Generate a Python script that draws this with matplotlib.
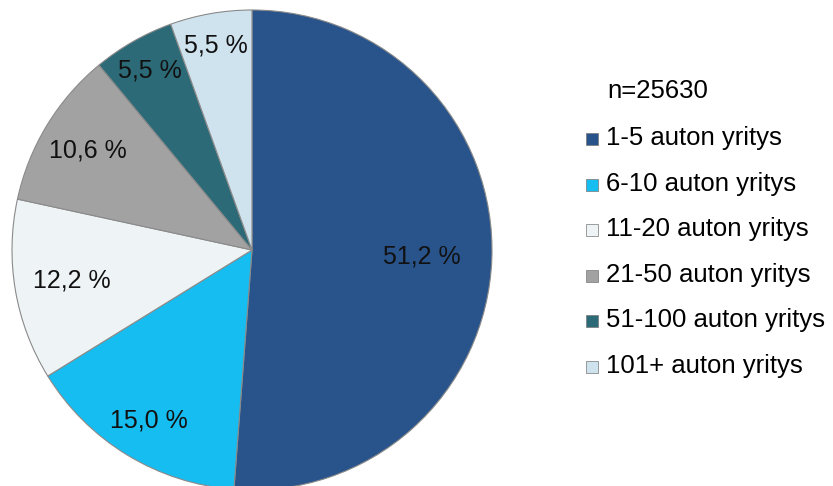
import matplotlib

matplotlib.use("Agg")
import matplotlib.pyplot as plt
import numpy as np
from matplotlib.patches import Rectangle

plt.rcParams["font.family"] = ["Liberation Sans", "DejaVu Sans"]

categories = [
    "1-5 auton yritys",
    "6-10 auton yritys",
    "11-20 auton yritys",
    "21-50 auton yritys",
    "51-100 auton yritys",
    "101+ auton yritys",
]
shares = [51.2, 15.0, 12.2, 10.6, 5.5, 5.5]
colors = ["#29548b", "#16bdf0", "#eef3f6", "#a2a2a2", "#2c6a78", "#cfe3ef"]
n_total = 25630

W, H = 833, 486
fig = plt.figure(figsize=(W / 100, H / 100), dpi=100)

# pie centre ~ (252, 250) px, radius ~240 px
cx, cy, r = 252, 250, 240
ax = fig.add_axes([(cx - r) / W, (H - cy - r) / H, 2 * r / W, 2 * r / H])

wedges, _ = ax.pie(
    shares,
    colors=colors,
    startangle=90,
    counterclock=False,
    radius=1.0,
    wedgeprops=dict(edgecolor="#8a8a8a", linewidth=0.8),
)

# label distance from centre, per slice (fraction of radius)
label_r = [0.71, 0.83, 0.76, 0.80, 0.86, 0.865]
for w, s, lr in zip(wedges, shares, label_r):
    mid = np.deg2rad((w.theta1 + w.theta2) / 2)
    ax.text(lr * np.cos(mid), lr * np.sin(mid), f"{s:.1f} %".replace(".", ","),
            ha="center", va="center", fontsize=18, color="#111111")

ax.set_xlim(-1, 1)
ax.set_ylim(-1, 1)
ax.set_aspect("equal")
ax.axis("off")

# legend, drawn by hand to match the spacing
fig.text(607 / W, 1 - 98 / H, f"n={n_total}", fontsize=18.5, va="baseline", ha="left")
base0, step = 145, 45.6
for i, (cat, col) in enumerate(zip(categories, colors)):
    base = base0 + i * step
    fig.patches.append(Rectangle((586 / W, 1 - base / H), 12 / W, 12 / H,
                                 transform=fig.transFigure, facecolor=col,
                                 edgecolor="#777777", linewidth=0.5))
    fig.text(606 / W, 1 - base / H, cat, fontsize=18.5, va="baseline", ha="left")

fig.savefig("out.png", dpi=100)
